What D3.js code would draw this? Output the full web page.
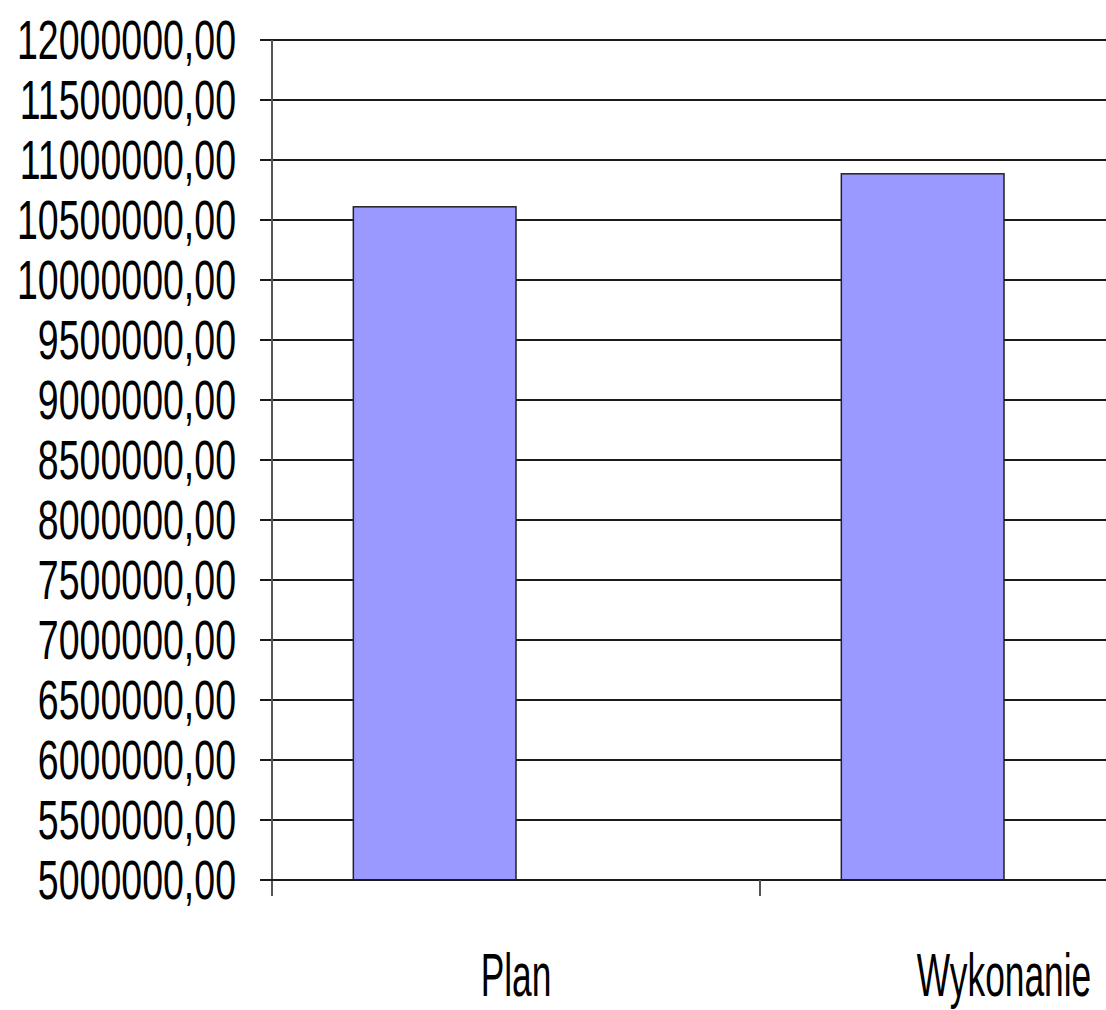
<!DOCTYPE html>
<html>
<head>
<meta charset="utf-8">
<script src="https://cdn.jsdelivr.net/npm/d3@7"></script>
<style>
  html, body { margin: 0; padding: 0; background: #fff; }
  svg { display: block; }
  text { font-family: "Liberation Sans", Arial, sans-serif; fill: #000; }
</style>
</head>
<body>
<svg id="chart" width="1106" height="1010"></svg>
<script>
// Data
const categories = ["Plan", "Wykonanie"];
const seriesNames = ["Wartość", ""];
const values = [10610000, 10885000];
const yTicks = [5000000, 5500000, 6000000, 6500000, 7000000, 7500000, 8000000, 8500000,
                9000000, 9500000, 10000000, 10500000, 11000000, 11500000, 12000000];

(function () {
const svg = d3.select("#chart");
const W = 1106;
const mLeft = 272, mTop = 40, mBottom = 880;
const bandW = 488;

const y = d3.scaleLinear().domain([5000000, 12000000]).range([mBottom, mTop]);
const x0 = d3.scaleBand().domain(categories).range([mLeft, mLeft + bandW * categories.length]).padding(0);
const x1 = d3.scaleBand().domain([0, 1]).range([0, x0.bandwidth()]).paddingInner(0).paddingOuter(0.5);

const fmt = v => d3.format("d")(v) + ",00";

// Gridlines
svg.append("g").selectAll("line").data(yTicks).join("line")
  .attr("x1", mLeft).attr("x2", W)
  .attr("y1", d => y(d)).attr("y2", d => y(d))
  .attr("stroke", "#1a1a1a").attr("stroke-width", 2);

// Y tick marks
svg.append("g").selectAll("line").data(yTicks).join("line")
  .attr("x1", mLeft - 12).attr("x2", mLeft)
  .attr("y1", d => y(d)).attr("y2", d => y(d))
  .attr("stroke", "#1a1a1a").attr("stroke-width", 2);

// Y tick labels
svg.append("g").selectAll("text").data(yTicks).join("text")
  .attr("transform", d => `translate(236,${y(d) + 19}) scale(0.682,1)`)
  .attr("text-anchor", "end")
  .attr("font-size", 55)
  .text(fmt);

// Bars
svg.append("g").selectAll("rect").data(values).join("rect")
  .attr("x", (d, i) => x0(categories[i]) + x1(0))
  .attr("y", d => y(d))
  .attr("width", x1.bandwidth())
  .attr("height", d => y(5000000) - y(d))
  .attr("fill", "#9999ff")
  .attr("stroke", "#222")
  .attr("stroke-width", 1.5);

// Axes lines
svg.append("line")
  .attr("x1", mLeft).attr("x2", mLeft).attr("y1", mTop).attr("y2", mBottom + 16)
  .attr("stroke", "#555").attr("stroke-width", 2);
svg.append("line")
  .attr("x1", mLeft - 12).attr("x2", W).attr("y1", mBottom).attr("y2", mBottom)
  .attr("stroke", "#1a1a1a").attr("stroke-width", 2);

// Category separator ticks
svg.append("g").selectAll("line").data(categories.slice(1)).join("line")
  .attr("x1", d => x0(d)).attr("x2", d => x0(d))
  .attr("y1", mBottom).attr("y2", mBottom + 16)
  .attr("stroke", "#555").attr("stroke-width", 2);

// Category labels
svg.append("g").selectAll("text").data(categories).join("text")
  .attr("transform", d => `translate(${x0(d) + x0.bandwidth() / 2},996) scale(0.57,1)`)
  .attr("text-anchor", "middle")
  .attr("font-size", 62)
  .text(d => d);
})();
</script>
</body>
</html>
